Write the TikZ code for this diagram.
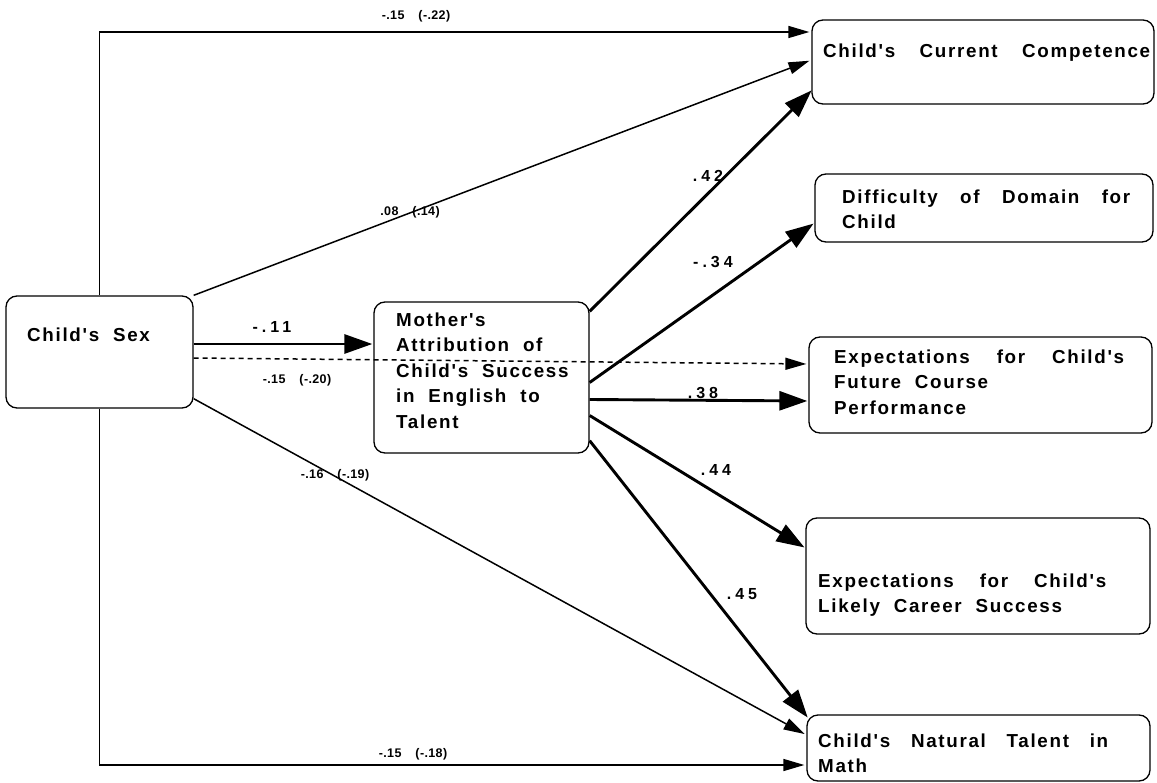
\documentclass[tikz,border=0pt]{standalone}
\usepackage{fontspec}
\setmainfont{Liberation Sans}
\newfontfamily\boxfont{Liberation Sans}[LetterSpace=9,WordSpace=2]
\newfontfamily\coeffont{Liberation Sans}[LetterSpace=25]
\newfontfamily\smallfont{Liberation Sans}[LetterSpace=3]
\usetikzlibrary{arrows.meta,calc}

\tikzset{
  boxnode/.style={draw, line width=1.3bp, rounded corners=11bp, inner sep=0pt},
  boxtext/.style={anchor=north west, inner sep=0pt, align=left,
    font=\boxfont\bfseries\fontsize{18.8bp}{25.5bp}\selectfont},
  heavy/.style={line width=2.9bp, -{Triangle[length=28bp,width=19bp]}, shorten >=1bp},
  light/.style={line width=1.5bp, -{Triangle[length=21bp,width=12bp]}, shorten >=2bp},
  coef/.style={inner sep=0pt, font=\coeffont\bfseries\fontsize{16bp}{18bp}\selectfont},
  pathlbl/.style={inner sep=0pt, font=\smallfont\bfseries\fontsize{12.5bp}{14bp}\selectfont},
}
\newcommand{\firstline}{\rule{0pt}{14bp}}

\begin{document}
\begin{tikzpicture}[x=1bp, y=-1bp]
\useasboundingbox (0,0) rectangle (1157,783);

% boxes
\node[boxnode, minimum width=187bp, minimum height=112bp] (sex)  at (99.5,352) {};
\node[boxnode, minimum width=215bp, minimum height=151bp] (attr) at (481.5,377.5) {};
\node[boxnode, minimum width=342bp, minimum height=84bp]  (comp) at (983,62) {};
\node[boxnode, minimum width=338bp, minimum height=68bp]  (diff) at (984,208) {};
\node[boxnode, minimum width=343bp, minimum height=96bp]  (fut)  at (980.5,385) {};
\node[boxnode, minimum width=344bp, minimum height=116bp] (car)  at (978,576) {};
\node[boxnode, minimum width=343bp, minimum height=66bp]  (tal)  at (978.5,748) {};

% box texts
\node[boxtext] (sexT)  at (27,327) {\firstline Child's Sex};
\node[boxtext] (attrT) at (396,312) {\firstline Mother's\\Attribution of\\Child's Success\\in English to\\Talent};
\node[boxtext] (compT) at (823,43) {\firstline\makebox[327bp][s]{Child's Current Competence}};
\node[boxtext] (diffT) at (842,189) {\firstline\makebox[288bp][s]{Difficulty of Domain for}\\Child};
\node[boxtext] (futT)  at (834,349) {\firstline\makebox[290bp][s]{Expectations for Child's}\\Future Course\\Performance};
\node[boxtext] (carT)  at (818,573) {\firstline\makebox[288bp][s]{Expectations for Child's}\\Likely Career Success};
\node[boxtext] (talT)  at (818,733) {\firstline\makebox[290bp][s]{Child's Natural Talent in}\\Math};

% direct paths from child's sex
\draw[light] (sex.north) |- ($(comp.west)+(0,-30)$);
\draw[light] (sex.north east) -- ($(comp.west)+(0,-2)$);
\draw[heavy] ($(sex.east)+(0,-8)$) -- ($(attr.west)+(0,-33.5)$);
\draw[light, dashed, dash pattern=on 5bp off 4bp] ($(sex.east)+(0,6)$) -- ($(fut.west)+(0,-21)$);
\draw[light] ($(sex.south east)+(0,-10)$) -- ($(tal.west)+(0,-13)$);
\draw[light] (sex.south) |- ($(tal.west)+(0,17)$);

% paths from mother's attribution
\draw[heavy] ($(attr.north east)+(0,10)$) -- ($(comp.south west)+(1,-15)$);
\draw[heavy] ($(attr.east)+(0,5)$) -- ($(diff.west)+(0,15)$);
\draw[heavy] ($(attr.east)+(0,22)$) -- ($(fut.west)+(0,16)$);
\draw[heavy] ($(attr.east)+(0,38)$) -- ($(car.west)+(0,-28)$);
\draw[heavy] ($(attr.south east)+(0,-13)$) -- ($(tal.north west)+(2,4)$);

% coefficients
\node[pathlbl] (l1) at (416,16)  {-.15\hspace{14bp}(-.22)};
\node[pathlbl] (l2) at (410,212) {.08\hspace{14bp}(.14)};
\node[pathlbl] (l3) at (297,380) {-.15\hspace{14bp}(-.20)};
\node[pathlbl] (l4) at (335,475) {-.16\hspace{14bp}(-.19)};
\node[pathlbl] (l5) at (413,754) {-.15\hspace{14bp}(-.18)};
\node[coef] (c1) at (272,327) {-.11};
\node[coef] (c2) at (708,176) {.42};
\node[coef] (c3) at (713,262) {-.34};
\node[coef] (c4) at (703,393) {.38};
\node[coef] (c5) at (716,470) {.44};
\node[coef] (c6) at (742,594) {.45};
\end{tikzpicture}
\end{document}
